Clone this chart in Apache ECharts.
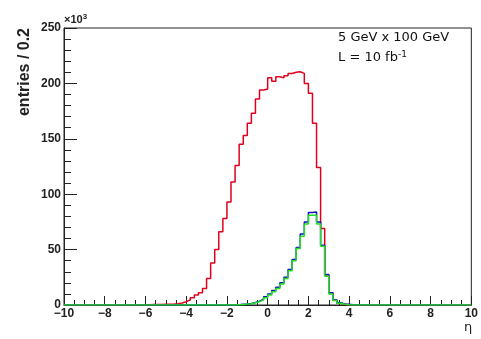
<!DOCTYPE html>
<html>
<head>
<meta charset="utf-8">
<script src="https://cdn.jsdelivr.net/npm/echarts@6/dist/echarts.min.js"></script>
<style>
  html, body { margin: 0; padding: 0; background: #fff; }
  #chart { width: 481px; height: 339px; }
</style>
</head>
<body>
<div id="chart"></div>
<script>
  // binning of the eta histogram
  const etaMin = -10
  const etaMax = 10
  const binWidth = 0.2

  // entries per bin (x10^3), starting at the given eta bin edge
  const redFirstEta = -6.4
  const redValues = [
    0.2, 0.3, 0.3, 0.4, 0.4, 0.5, 0.6, 0.7, 0.9, 1.2,
    1.8, 3, 4.5, 6.5, 9, 11, 15, 24, 38, 50,
    66, 78, 93, 111, 126, 145, 153, 164, 173, 186,
    194, 195, 205, 202, 206, 205, 207, 209, 210, 210.5,
    209, 200, 191, 164, 124, 69, 27, 11, 4.5, 1.5,
    0.6, 0.3
  ]

  const blueFirstEta = -1.6
  const blueValues = [
    0.3, 0.6, 0.9, 1.4, 2.3, 3.5, 5.2, 7.5, 10, 13,
    16, 20, 25, 32, 41, 52, 64, 75, 83.5, 84,
    75, 54, 27.5, 11, 4.5, 2, 1, 0.6, 0.3
  ]

  const greenFirstEta = -1.6
  const greenValues = [
    0.3, 0.5, 0.8, 1.2, 2, 3, 4.5, 6.5, 9, 12,
    15, 19, 24, 31, 40, 51, 62, 73, 81, 81,
    73, 53, 26, 10, 4, 1.5, 0.6, 0.3, 0.1
  ]

  const xTicks = [-10, -8, -6, -4, -2, 0, 2, 4, 6, 8, 10]
  const yTicks = [0, 50, 100, 150, 200, 250]

  // turn a list of bin contents into step points on the bin edges
  function toSteps(firstEta, values) {
    const nBins = Math.round((etaMax - etaMin) / binWidth)
    const pts = []
    let last = 0
    for (let i = 0; i < nBins; i++) {
      const eta = Number((etaMin + i * binWidth).toFixed(1))
      const j = Math.round((eta - firstEta) / binWidth)
      const v = j >= 0 && j < values.length ? values[j] : 0
      pts.push([eta, v])
      last = v
    }
    pts.push([etaMax, last])
    return pts
  }

  const labelFont = {
    fontFamily: 'Liberation Sans',
    fontWeight: 'bold',
    fontSize: 12,
    color: '#222'
  }

  const chart = echarts.init(document.getElementById('chart'))

  function histSeries(name, color, firstEta, values, z) {
    return {
      name,
      type: 'line',
      step: 'end',
      symbol: 'none',
      z,
      lineStyle: { color, width: 1.5 },
      data: toSteps(firstEta, values)
    }
  }

  chart.setOption({
    animation: false,
    backgroundColor: '#fff',
    grid: {
      left: 64,
      right: 8,
      top: 28,
      bottom: 34,
      show: true,
      borderColor: '#222',
      borderWidth: 1
    },
    xAxis: {
      type: 'value',
      min: etaMin,
      max: etaMax,
      interval: 2,
      axisLine: { onZero: false, lineStyle: { color: '#222', width: 1 } },
      axisTick: { inside: true, length: 9, lineStyle: { color: '#222' } },
      minorTick: { show: true, splitNumber: 4, length: 5, lineStyle: { color: '#222' } },
      splitLine: { show: false },
      axisLabel: Object.assign({
        margin: 3,
        formatter: (v) => (xTicks.includes(v) ? String(v).replace('-', '\u2212') : '')
      }, labelFont)
    },
    yAxis: {
      type: 'value',
      min: 0,
      max: 250,
      interval: 50,
      axisLine: { show: true, onZero: false, lineStyle: { color: '#222', width: 1 } },
      axisTick: { show: true, inside: true, length: 13, lineStyle: { color: '#222' } },
      minorTick: { show: true, splitNumber: 5, length: 7, lineStyle: { color: '#222' } },
      splitLine: { show: false },
      axisLabel: Object.assign({
        margin: 3,
        formatter: (v) => (yTicks.includes(v) ? String(v) : '')
      }, labelFont)
    },
    graphic: [
      {
        type: 'text',
        x: 25,
        y: 72,
        rotation: Math.PI / 2,
        style: {
          text: 'entries / 0.2',
          font: 'bold 16px "Liberation Sans"',
          fill: '#222',
          align: 'center',
          verticalAlign: 'middle'
        }
      },
      {
        type: 'text',
        x: 64,
        y: 27,
        style: {
          text: '{a|\u00d710}{s|3}',
          verticalAlign: 'bottom',
          rich: {
            a: { font: 'bold 11px "Liberation Sans"', fill: '#222' },
            s: { font: 'bold 8px "Liberation Sans"', fill: '#222', verticalAlign: 'top', padding: [0, 0, 6, 0] }
          }
        }
      },
      {
        type: 'text',
        x: 468,
        y: 328,
        style: {
          text: '\u03b7',
          font: '13px "DejaVu Sans"',
          fill: '#222',
          align: 'center',
          verticalAlign: 'middle'
        }
      },
      {
        type: 'text',
        x: 338,
        y: 31,
        style: {
          text: '5 GeV x 100 GeV',
          font: '13px "DejaVu Sans"',
          fill: '#111',
          verticalAlign: 'top'
        }
      },
      {
        type: 'text',
        x: 338,
        y: 50,
        style: {
          text: '{a|L = 10 fb}{s|-1}',
          verticalAlign: 'top',
          rich: {
            a: { font: '13px "DejaVu Sans"', fill: '#111' },
            s: { font: '9px "DejaVu Sans"', fill: '#111', padding: [0, 0, 7, 0] }
          }
        }
      }
    ],
    series: [
      histSeries('all', '#e0001b', redFirstEta, redValues, 2),
      histSeries('blue', '#1010c8', blueFirstEta, blueValues, 3),
      histSeries('green', '#20e020', greenFirstEta, greenValues, 4)
    ]
  })
</script>
</body>
</html>
